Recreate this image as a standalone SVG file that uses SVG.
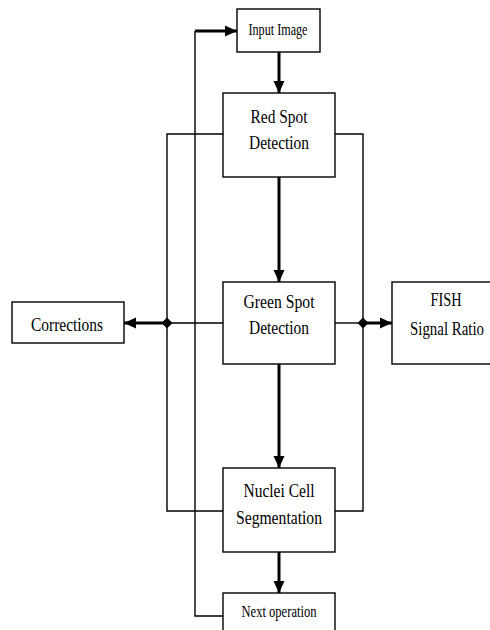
<svg xmlns="http://www.w3.org/2000/svg" width="490" height="630" viewBox="0 0 490 630">
  <style>
    .box { fill: #ffffff; stroke: #000000; stroke-width: 1.4; }
    .thin { fill: none; stroke: #000000; stroke-width: 1.4; }
    .thick { fill: none; stroke: #000000; stroke-width: 3; }
    .lbl { font-family: "Liberation Serif", "Times New Roman", serif; font-size: 19px; fill: #000000; text-anchor: middle; }
    .sm { font-size: 16px; }
  </style>
  <defs>
    <marker id="head" markerUnits="userSpaceOnUse" markerWidth="12" markerHeight="12" viewBox="0 0 12 12" refX="12" refY="6" orient="auto">
      <path d="M0,0.5 L12,6 L0,11.5 Z" fill="#000000"/>
    </marker>
  </defs>
  <rect width="490" height="630" fill="#ffffff"/>

  <!-- connectors -->
  <g id="connectors">
    <!-- feedback loop from the next operation back to the input -->
    <polyline class="thin" points="223,616 195,616 195,31"/>
    <line class="thick" x1="195" y1="31" x2="237" y2="31" marker-end="url(#head)"/>
    <!-- left collection bus -->
    <polyline class="thin" points="223,134 167,134 167,511 223,511"/>
    <line class="thin" x1="223" y1="323" x2="167" y2="323"/>
    <!-- right collection bus -->
    <polyline class="thin" points="335,134 363,134 363,511 335,511"/>
    <line class="thin" x1="335" y1="323" x2="363" y2="323"/>
    <!-- main flow -->
    <line class="thick" x1="279" y1="52" x2="279" y2="93" marker-end="url(#head)"/>
    <line class="thick" x1="279" y1="177" x2="279" y2="282" marker-end="url(#head)"/>
    <line class="thick" x1="279" y1="364" x2="279" y2="468" marker-end="url(#head)"/>
    <line class="thick" x1="279" y1="552" x2="279" y2="593" marker-end="url(#head)"/>
    <!-- outputs -->
    <line class="thick" x1="167" y1="323" x2="124" y2="323" marker-end="url(#head)"/>
    <line class="thick" x1="363" y1="323" x2="392" y2="323" marker-end="url(#head)"/>
    <!-- junctions -->
    <path d="M167,317.5 L172.5,323 L167,328.5 L161.5,323 Z" fill="#000000"/>
    <path d="M363,317.5 L368.5,323 L363,328.5 L357.5,323 Z" fill="#000000"/>
  </g>

  <g id="input-image">
    <rect class="box" x="237" y="9" width="83" height="43"/>
    <text class="lbl sm" x="278" y="35" textLength="59" lengthAdjust="spacingAndGlyphs">Input Image</text>
  </g>

  <g id="red-spot">
    <rect class="box" x="223" y="93" width="112" height="84"/>
    <text class="lbl" x="279" y="123" textLength="57" lengthAdjust="spacingAndGlyphs">Red Spot</text>
    <text class="lbl" x="279" y="149" textLength="60" lengthAdjust="spacingAndGlyphs">Detection</text>
  </g>

  <g id="green-spot">
    <rect class="box" x="223" y="282" width="112" height="82"/>
    <text class="lbl" x="279" y="308" textLength="71" lengthAdjust="spacingAndGlyphs">Green Spot</text>
    <text class="lbl" x="279" y="334" textLength="60" lengthAdjust="spacingAndGlyphs">Detection</text>
  </g>

  <g id="corrections">
    <rect class="box" x="12" y="302" width="112" height="41"/>
    <text class="lbl" x="67" y="331" textLength="72" lengthAdjust="spacingAndGlyphs">Corrections</text>
  </g>

  <g id="fish-ratio">
    <rect class="box" x="392" y="282" width="110" height="82"/>
    <text class="lbl" x="446" y="306" textLength="31" lengthAdjust="spacingAndGlyphs">FISH</text>
    <text class="lbl" x="447" y="335" textLength="74" lengthAdjust="spacingAndGlyphs">Signal Ratio</text>
  </g>

  <g id="nuclei-segmentation">
    <rect class="box" x="223" y="468" width="112" height="84"/>
    <text class="lbl" x="279" y="497" textLength="71" lengthAdjust="spacingAndGlyphs">Nuclei Cell</text>
    <text class="lbl" x="279" y="524" textLength="86" lengthAdjust="spacingAndGlyphs">Segmentation</text>
  </g>

  <g id="next-operation">
    <rect class="box" x="223" y="593" width="112" height="45"/>
    <text class="lbl sm" x="279" y="617" textLength="75" lengthAdjust="spacingAndGlyphs">Next operation</text>
  </g>
</svg>
